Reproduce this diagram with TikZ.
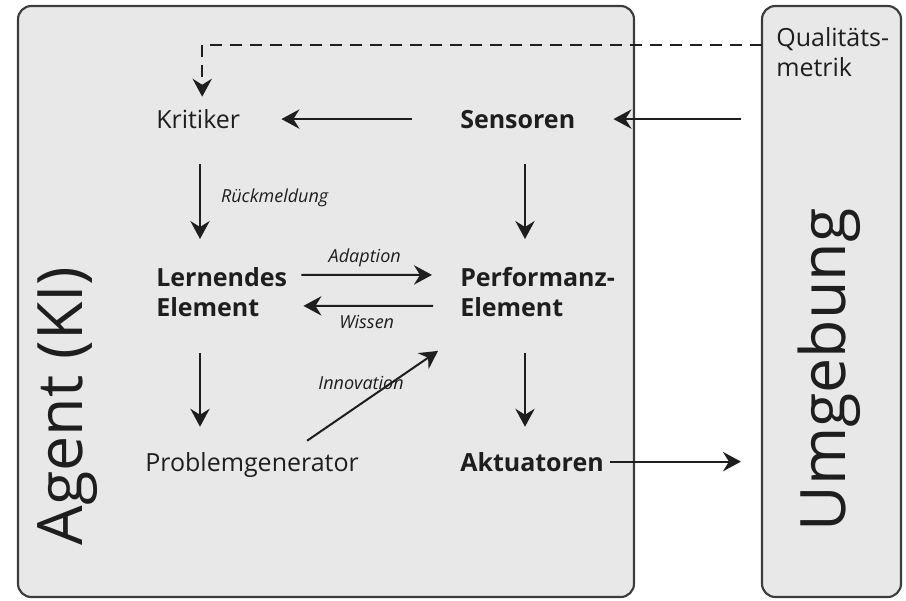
\documentclass[tikz,border=0pt]{standalone}
\usepackage{fontspec}
\setmainfont{Open Sans}
\usetikzlibrary{arrows.meta,calc,fit,positioning}
\definecolor{panelfill}{HTML}{E8E8E8}
\definecolor{panelline}{HTML}{3C3C3C}
\definecolor{ink}{HTML}{1E1E1E}

\begin{document}
\begin{tikzpicture}[
	x=0.75pt, y=-0.75pt,
	panel/.style={draw=panelline, fill=panelfill, line width=1.6pt, rounded corners=10pt, inner sep=0pt},
	txt/.style={inner sep=0pt, text=ink, font=\fontsize{18.75}{22.5}\selectfont},
	strong/.style={txt, font=\fontsize{18.75}{22.5}\selectfont\bfseries},
	big/.style={inner sep=0pt, text=ink, font=\fontsize{47}{50}\selectfont, rotate=90, anchor=base},
	lbl/.style={inner sep=0pt, text=ink, font=\fontsize{13.5}{16}\selectfont\itshape},
	arr/.style={draw=ink, line width=1.5pt, -{Stealth[length=13.5pt, width=14.5pt, inset=4.5pt]}}]
\useasboundingbox (0,0) rectangle (906,600);

% the two panels
\node[panel, fit={(18,6) (634,597)}] (agent) {};
\node[panel, fit={(762,6) (901,597)}] (umg) {};
\node[big] (agentlbl) at (82,406) {Agent (KI)};
\node[big] (umglbl) at (845,370) {Umgebung};

\node[txt, anchor=base west] (krit) at (156,128) {Kritiker};
\node[strong, anchor=base west] (sens) at (460,128) {Sensoren};
\node[strong, anchor=north west, align=left] (lern) at (156,267) {Lernendes\\Element};
\node[strong, anchor=north west, align=left] (perf) at (460,267) {Performanz-\\Element};
\node[txt, anchor=base west] (prob) at (145,471) {Problemgenerator};
\node[strong, anchor=base west] (akt) at (460,471) {Aktuatoren};
\node[txt, anchor=north west, align=left] (qual) at (776,27) {Qualitäts-\\metrik};

\coordinate (lc) at (200,0);
\coordinate (rc) at (525,0);
\coordinate (qm) at (762,45);

\draw[arr, dash pattern=on 9pt off 6pt, shorten >=9pt] (qm) -| ([xshift=3pt]krit.north);
\draw[arr, shorten <=15pt, shorten >=28.5pt] (umg.west |- sens.east) -- (sens.east);
\draw[arr, shorten <=36pt, shorten >=30.75pt] (sens.west) -- (sens.west -| krit.east);
\draw[arr, shorten <=4.5pt, shorten >=15pt] (akt.east) -- (akt.east -| umg.west);

\draw[arr, shorten <=26.25pt, shorten >=21pt] (lc |- krit.south) -- (lc |- lern.north)
	node[lbl, midway, right=15pt] {Rückmeldung};
\draw[arr, shorten <=27pt, shorten >=18.75pt] (lc |- lern.south) -- (lc |- prob.north);
\draw[arr, shorten <=26.25pt, shorten >=21pt] (rc |- sens.south) -- (rc |- perf.north);
\draw[arr, shorten <=27pt, shorten >=18.75pt] (rc |- perf.south) -- (rc |- akt.north);

\draw[arr, shorten <=10.5pt, shorten >=21pt] ($(lern.east)+(0,-17)$) -- ($(perf.west)+(0,-17)$)
	node[lbl, midway, above=5pt, xshift=-6.75pt] {Adaption};
\draw[arr, shorten <=20.25pt, shorten >=12pt] ($(perf.west)+(0,14)$) -- ($(lern.east)+(0,14)$)
	node[lbl, midway, below=6pt, xshift=-5.25pt] {Wissen};
\draw[arr] ($(prob.north)+(55,-11)$) -- ($(perf.south west)+(-22,34)$)
	node[lbl, midway, above=3.75pt, xshift=-8.6pt] {Innovation};
\end{tikzpicture}
\end{document}
